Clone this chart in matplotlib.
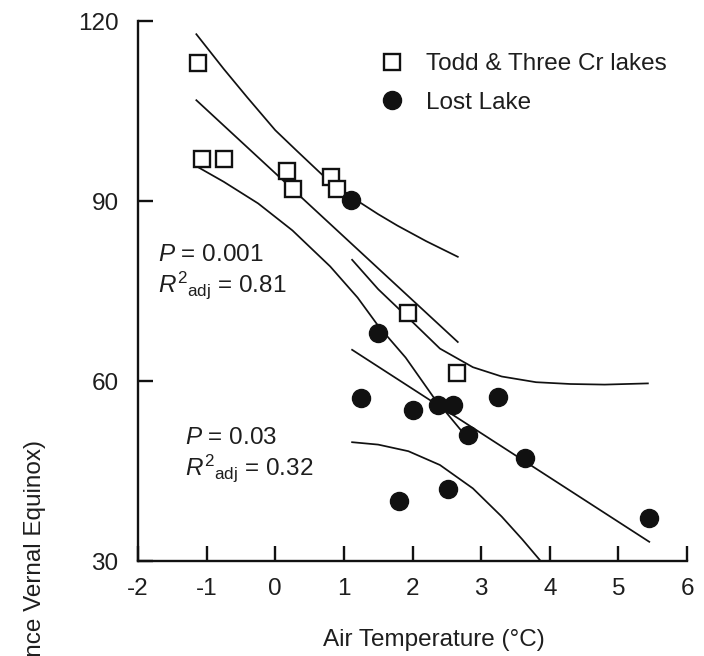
import matplotlib
matplotlib.use("Agg")
import matplotlib.pyplot as plt
from matplotlib.lines import Line2D

plt.rcParams['font.family'] = ['Liberation Sans', 'DejaVu Sans']
plt.rcParams['mathtext.fontset'] = 'custom'
plt.rcParams['mathtext.rm'] = 'Liberation Sans'
plt.rcParams['mathtext.it'] = 'Liberation Sans:italic'

# ---- data ----
todd_x = [-1.12, -1.07, -0.75, 0.17, 0.26, 0.81, 0.90, 1.94, 2.65]
todd_y = [113, 97, 97, 95, 92, 94, 92, 71.3, 61.3]

lost_x = [1.10, 1.50, 1.25, 2.01, 2.37, 2.59, 2.81, 3.25, 3.64, 2.52, 1.80, 5.45]
lost_y = [90.2, 68, 57.2, 55.2, 56, 56, 51, 57.3, 47.2, 42, 40, 37.2]

# regression lines and 95% confidence bands
todd_fit_x = [-1.15, 2.66]
todd_fit_y = [106.8, 66.5]
todd_up_x = [-1.15, -0.75, -0.41, 0.0, 0.32, 0.7, 1.12, 1.5, 1.78, 2.2, 2.66]
todd_up_y = [117.8, 112.0, 107.3, 101.8, 98.3, 94.2, 90.6, 87.8, 85.9, 83.3, 80.7]
todd_lo_x = [-1.15, -0.75, -0.25, 0.25, 0.8, 1.2, 1.5, 1.9, 2.3, 2.72]
todd_lo_y = [95.8, 93.2, 89.6, 85.1, 79.1, 73.9, 69.2, 63.9, 57.4, 51.6]

lost_fit_x = [1.12, 5.45]
lost_fit_y = [65.2, 33.2]
lost_up_x = [1.12, 1.5, 1.94, 2.4, 2.88, 3.3, 3.8, 4.3, 4.8, 5.43]
lost_up_y = [80.2, 75.3, 70.5, 65.4, 62.3, 60.75, 59.8, 59.5, 59.4, 59.6]
lost_lo_x = [1.12, 1.5, 1.94, 2.4, 2.88, 3.3, 3.6, 3.86]
lost_lo_y = [49.8, 49.4, 48.3, 46.0, 42.1, 37.4, 33.6, 30.1]

x_ticks = [-2, -1, 0, 1, 2, 3, 4, 5, 6]
y_ticks = [30, 60, 90, 120]

W, H = 704, 656
fig = plt.figure(figsize=(W / 100, H / 100), dpi=100)
ax = fig.add_axes([138 / W, 1 - 561 / H, (687 - 138) / W, (561 - 21) / H])

ink = '#111111'
txt = '#1e1e1e'
lw = 1.25
for xs, ys in [(todd_fit_x, todd_fit_y), (todd_up_x, todd_up_y), (todd_lo_x, todd_lo_y),
               (lost_fit_x, lost_fit_y), (lost_up_x, lost_up_y), (lost_lo_x, lost_lo_y)]:
    ax.plot(xs, ys, color=ink, lw=lw, zorder=2)

ax.plot(todd_x, todd_y, ls='none', marker='s', ms=12, mfc='white', mec=ink, mew=1.7, zorder=3)
ax.plot(lost_x, lost_y, ls='none', marker='o', ms=13, mfc=ink, mec=ink, zorder=4)

ax.set_xlim(-2, 6)
ax.set_ylim(30, 120)
ax.set_xticks(x_ticks)
ax.set_yticks(y_ticks)
ax.set_xticklabels([str(v) for v in x_ticks])
ax.set_yticklabels([str(v) for v in y_ticks])
for s in ['top', 'right']:
    ax.spines[s].set_visible(False)
for s in ['left', 'bottom']:
    ax.spines[s].set_linewidth(1.7)
    ax.spines[s].set_color(ink)
fs = 17.5
ax.tick_params(direction='in', length=11, width=1.7, colors=ink, labelsize=fs)
ax.tick_params(axis='x', pad=12)
ax.tick_params(axis='y', pad=14)
for lab in ax.get_xticklabels() + ax.get_yticklabels():
    lab.set_color(txt)

ax.text(-1.71, 81, r'$P$ = 0.001', fontsize=fs, va='center', ha='left', color=txt)
ax.text(-1.71, 76, r'$R^{2}{}_{\mathrm{adj}}$ = 0.81', fontsize=fs, va='center', ha='left', color=txt)
ax.text(-1.31, 50.5, r'$P$ = 0.03', fontsize=fs, va='center', ha='left', color=txt)
ax.text(-1.31, 45.5, r'$R^{2}{}_{\mathrm{adj}}$ = 0.32', fontsize=fs, va='center', ha='left', color=txt)

handles = [Line2D([], [], ls='none', marker='s', ms=12, mfc='white', mec=ink, mew=1.7),
           Line2D([], [], ls='none', marker='o', ms=13, mfc=ink, mec=ink)]
fig.legend(handles, ['Todd & Three Cr lakes', 'Lost Lake'], loc='upper left',
           bbox_to_anchor=(380 / W, 1 - 53 / H), frameon=False, fontsize=fs,
           handlelength=1.0, handletextpad=0.9, labelspacing=0.68, borderpad=0,
           borderaxespad=0, labelcolor=txt)

fig.text(434 / W, 1 - 640 / H, 'Air Temperature (°C)', fontsize=fs, ha='center', va='center',
         color=txt)
fig.text(35 / W, 1 - 440 / H, 'Ice-out Date (Days Since Vernal Equinox)', fontsize=fs,
         rotation=90, ha='center', va='top', color=txt)

fig.savefig('out.png', dpi=100)
